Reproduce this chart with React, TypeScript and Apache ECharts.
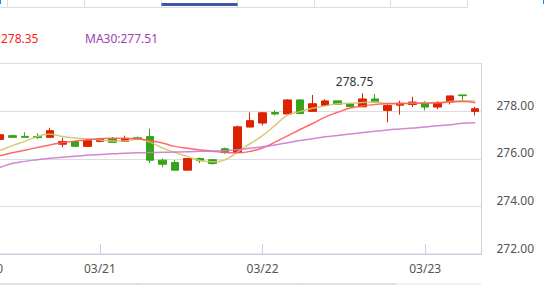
import React, { useEffect, useRef } from 'react';
import * as echarts from 'echarts';

const categories = [
  '03/20', '03/20', '03/20', '03/20', '03/20', '03/20', '03/20', '03/20', '03/20',
  '03/21', '03/21', '03/21', '03/21', '03/21', '03/21', '03/21', '03/21', '03/21', '03/21', '03/21', '03/21', '03/21',
  '03/22', '03/22', '03/22', '03/22', '03/22', '03/22', '03/22', '03/22', '03/22', '03/22', '03/22', '03/22', '03/22',
  '03/23', '03/23', '03/23', '03/23', '03/23',
];

const opens = [
  276.75, 276.81, 276.97, 276.94, 276.93, 276.90, 276.61, 276.72, 276.52, 276.73,
  276.84, 276.73, 276.88, 276.93, 275.94, 275.84, 275.52, 276.01, 275.96, 276.42,
  276.26, 277.33, 277.50, 277.94, 277.88, 278.47, 277.99, 278.24, 278.43, 278.31,
  278.18, 278.51, 278.03, 278.25, 278.28, 278.35, 278.17, 278.38, 278.68, 277.99,
];
const closes = [
  276.84, 277.01, 276.90, 276.90, 276.89, 277.18, 276.72, 276.52, 276.76, 276.83,
  276.69, 276.84, 276.81, 275.94, 275.77, 275.52, 276.01, 275.92, 275.80, 276.26,
  277.34, 277.60, 277.93, 277.88, 278.47, 277.90, 278.31, 278.43, 278.29, 278.19,
  278.51, 278.38, 278.24, 278.33, 278.38, 278.17, 278.35, 278.64, 278.65, 278.10,
];
const lows = [
  276.70, 276.78, 276.90, 276.90, 276.83, 276.90, 276.48, 276.52, 276.52, 276.69,
  276.69, 276.73, 276.81, 275.82, 275.64, 275.52, 275.52, 275.82, 275.75, 276.21,
  276.26, 277.33, 277.40, 277.82, 277.88, 277.90, 277.99, 278.24, 278.29, 278.17,
  278.18, 278.38, 277.53, 277.85, 278.17, 278.03, 278.08, 278.28, 278.44, 277.82,
];
const highs = [
  276.90, 277.05, 277.01, 277.11, 277.07, 277.30, 276.88, 276.76, 276.83, 276.88,
  276.91, 276.97, 276.93, 277.26, 276.01, 275.94, 276.01, 276.05, 275.96, 276.47,
  277.39, 277.94, 277.97, 278.03, 278.50, 278.50, 278.68, 278.50, 278.43, 278.31,
  278.75, 278.72, 278.28, 278.44, 278.60, 278.42, 278.42, 278.64, 278.68, 278.18,
];

const ma5 = [
  276.15, 276.34, 276.55, 276.73, 276.93, 277.03, 276.93, 276.87, 276.84, 276.79,
  276.75, 276.75, 276.83, 276.70, 276.45, 276.26, 276.09, 275.93, 275.87, 275.96,
  276.28, 276.63, 276.97, 277.40, 277.83, 277.98, 278.12, 278.22, 278.31, 278.33,
  278.36, 278.38, 278.33, 278.32, 278.33, 278.35, 278.36, 278.40, 278.44, 278.43,
];
const ma10 = [
  276.02, 276.13, 276.25, 276.36, 276.47, 276.58, 276.68, 276.74, 276.80, 276.84,
  276.86, 276.86, 276.84, 276.76, 276.66, 276.52, 276.44, 276.37, 276.32, 276.26,
  276.25, 276.31, 276.45, 276.70, 276.96, 277.23, 277.48, 277.75, 277.95, 278.13,
  278.22, 278.28, 278.31, 278.32, 278.32, 278.33, 278.35, 278.38, 278.40, 278.35,
];
const ma30 = [
  275.48, 275.64, 275.80, 275.89, 275.96, 276.02, 276.06, 276.11, 276.15, 276.18,
  276.21, 276.23, 276.25, 276.26, 276.27, 276.28, 276.29, 276.31, 276.32, 276.34,
  276.38, 276.44, 276.50, 276.58, 276.67, 276.77, 276.84, 276.92, 276.98, 277.04,
  277.10, 277.15, 277.21, 277.25, 277.29, 277.33, 277.39, 277.43, 277.49, 277.51,
];

const yTicks = [272, 274, 276, 278, 280];
const maxLabel = { index: 30, value: 278.75 };
const legendTexts = [
  { text: 'MA10:278.35', color: '#ff2020' },
  { text: 'MA30:277.51', color: '#a23db6' },
];

const FONT = '"Noto Sans", "Open Sans", sans-serif';
const UP = '#dd2200';
const DOWN = '#35a416';
const BORDER = '#c8d3df';
const SHIFT = 19; // chart canvas starts 19px left of the visible page

const isDayStart = (i: number) => i === 0 || categories[i] !== categories[i - 1];

export default function App() {
  const ref = useRef<HTMLDivElement>(null);

  useEffect(() => {
    const chart = echarts.init(ref.current!, null, { renderer: 'svg' });
    const candleData = opens.map((o, i) => [o, closes[i], lows[i], highs[i]]);

    const topSeps = [7.5, 84.5, 161.5, 237.5, 314.5, 390.5, 467.5];
    const bottomSeps = [137.5, 301.5, 394.5];
    const X = (x: number) => x + SHIFT;

    const option: any = {
      animation: false,
      backgroundColor: '#ffffff',
      grid: {
        left: 0,
        right: 63.5,
        top: 63.5,
        bottom: 31,
        outerBoundsMode: 'none',
        containLabel: false,
        show: true,
        borderColor: BORDER,
        borderWidth: 1,
        backgroundColor: 'transparent',
      },
      xAxis: {
        type: 'category',
        data: categories,
        boundaryGap: true,
        axisLine: { lineStyle: { color: BORDER } },
        axisTick: {
          show: true,
          inside: true,
          length: 10,
          alignWithLabel: true,
          interval: (i: number) => isDayStart(i),
          lineStyle: { color: BORDER },
        },
        axisLabel: {
          interval: (i: number) => isDayStart(i),
          color: '#555',
          fontSize: 12,
          fontFamily: FONT,
          margin: 8,
        },
        splitLine: { show: false },
      },
      yAxis: {
        type: 'value',
        position: 'right',
        min: yTicks[0],
        max: yTicks[yTicks.length - 1],
        interval: yTicks[1] - yTicks[0],
        axisLine: { show: false },
        axisTick: { show: false },
        splitLine: { lineStyle: { color: '#dddddd', width: 1 } },
        axisLabel: {
          margin: 15,
          verticalAlign: 'bottom',
          color: '#555',
          fontSize: 12,
          fontFamily: FONT,
          formatter: (v: number) => (v >= yTicks[yTicks.length - 1] ? '' : v.toFixed(2)),
        },
      },
      series: [
        {
          type: 'candlestick',
          data: candleData,
          barWidth: 8,
          itemStyle: {
            color: UP,
            color0: DOWN,
            borderColor: UP,
            borderColor0: DOWN,
            borderWidth: 1,
          },
          markPoint: {
            symbol: 'circle',
            symbolSize: 0,
            data: [
              {
                coord: [maxLabel.index, maxLabel.value],
                value: maxLabel.value,
                label: {
                  show: true,
                  position: 'top',
                  distance: 6,
                  offset: [-8, 0],
                  formatter: maxLabel.value.toFixed(2),
                  color: '#333',
                  fontSize: 12,
                  fontFamily: FONT,
                },
              },
            ],
          },
        },
        {
          type: 'line',
          data: ma5,
          smooth: true,
          symbol: 'none',
          lineStyle: { color: '#d2c56a', width: 1.5, opacity: 0.9 },
          z: 3,
        },
        {
          type: 'line',
          data: ma10,
          smooth: true,
          symbol: 'none',
          lineStyle: { color: '#ff5a5a', width: 1.5, opacity: 0.9 },
          z: 3,
        },
        {
          type: 'line',
          data: ma30,
          smooth: true,
          symbol: 'none',
          lineStyle: { color: '#cc7ad0', width: 1.5, opacity: 0.9 },
          z: 3,
        },
      ],
      graphic: [
        {
          type: 'line',
          shape: { x1: X(0), y1: 7.5, x2: X(468), y2: 7.5 },
          style: { stroke: '#dddddd', lineWidth: 1 },
          silent: true,
        },
        ...topSeps.map((x) => ({
          type: 'line',
          shape: { x1: X(x), y1: 0, x2: X(x), y2: 7.5 },
          style: { stroke: '#dddddd', lineWidth: 1 },
          silent: true,
        })),
        {
          type: 'rect',
          shape: { x: X(161.5), y: 3, width: 76, height: 3 },
          style: { fill: '#3f57a6' },
          silent: true,
        },
        {
          type: 'line',
          shape: { x1: X(0.5), y1: 0, x2: X(0.5), y2: 4 },
          style: { stroke: '#1e88e5', lineWidth: 1 },
          silent: true,
        },
        {
          type: 'line',
          shape: { x1: X(543.5), y1: 0, x2: X(543.5), y2: 4 },
          style: { stroke: '#1e88e5', lineWidth: 1 },
          silent: true,
        },
        {
          type: 'line',
          shape: { x1: X(0), y1: 284, x2: X(394.5), y2: 284 },
          style: { stroke: '#c4c4c4', lineWidth: 1 },
          silent: true,
        },
        {
          type: 'line',
          shape: { x1: X(394.5), y1: 284, x2: X(481), y2: 284 },
          style: { stroke: '#e2e2e2', lineWidth: 1 },
          silent: true,
        },
        ...bottomSeps.map((x) => ({
          type: 'line',
          shape: { x1: X(x), y1: 284, x2: X(x), y2: 285 },
          style: { stroke: '#c4c4c4', lineWidth: 1 },
          silent: true,
        })),
        {
          type: 'text',
          style: {
            text: legendTexts[0].text,
            x: X(38.5),
            y: 38,
            align: 'right',
            verticalAlign: 'middle',
            fill: legendTexts[0].color,
            fontSize: 12,
            fontFamily: FONT,
          },
          silent: true,
        },
        {
          type: 'text',
          style: {
            text: legendTexts[1].text,
            x: X(85),
            y: 38,
            align: 'left',
            verticalAlign: 'middle',
            fill: legendTexts[1].color,
            fontSize: 12,
            fontFamily: FONT,
          },
          silent: true,
        },
      ],
    };

    chart.setOption(option);
    return () => chart.dispose();
  }, []);

  return (
    <div
      ref={ref}
      style={{
        position: 'fixed',
        left: -SHIFT,
        top: 0,
        width: 545 + SHIFT,
        height: 285,
        background: '#fff',
      }}
    />
  );
}
